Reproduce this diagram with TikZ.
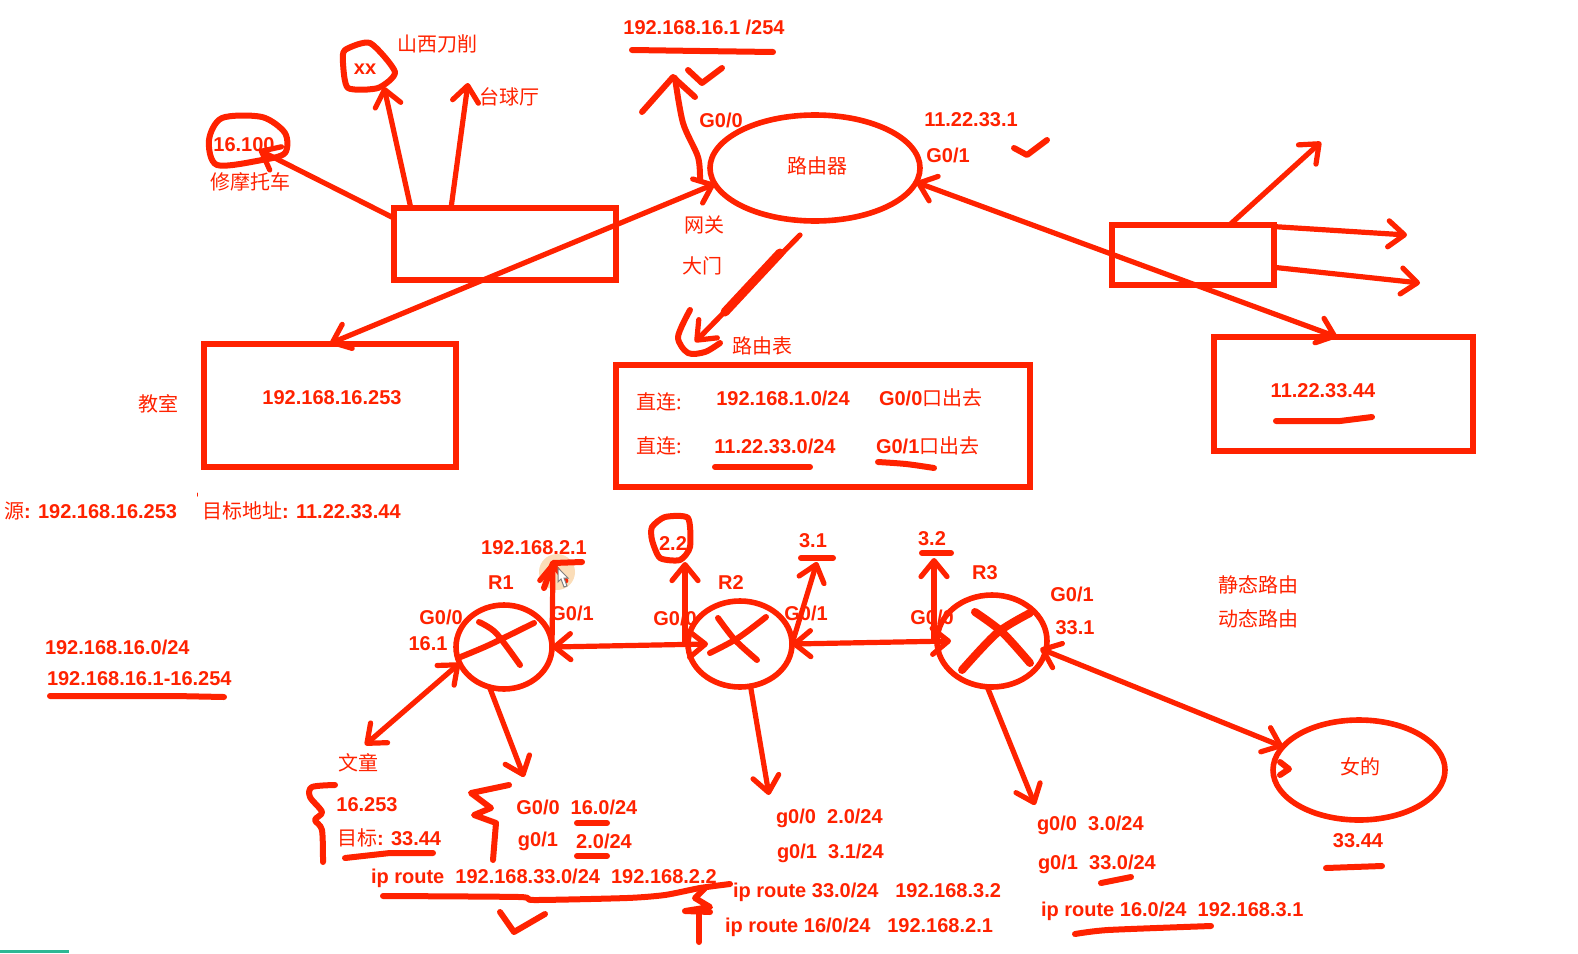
\documentclass[tikz,border=0pt]{standalone}
\usepackage{fontspec}
\setmainfont{Liberation Sans}
\newfontfamily\cjk{Noto Sans CJK SC}
\usetikzlibrary{arrows.meta,shapes.geometric}
\definecolor{inkred}{HTML}{FF2200}
\definecolor{haloorange}{HTML}{FBDDB8}
\definecolor{barteal}{HTML}{2DB894}
\tikzset{
  lbl/.style={text=inkred,font=\bfseries,inner sep=0pt,outer sep=0pt,yshift=-.5pt},
  zh/.style={text=inkred,font=\cjk,inner sep=0pt,outer sep=0pt},
  boxnode/.style={draw=inkred,line width=3pt,rectangle,inner sep=0pt,outer sep=0pt},
  roundnode/.style={draw=inkred,line width=2.8pt,ellipse,inner sep=0pt,outer sep=0pt},
  ink/.style={draw=inkred,line width=2.6pt,line cap=round,line join=round},
  link/.style={ink,>={Straight Barb[length=8pt,width=13pt,round]}},
  scrib/.style={draw=inkred,line width=3pt,line cap=round,line join=round},
}
\begin{document}
\begin{tikzpicture}[x=.5pt,y=-.5pt]
\useasboundingbox (0,0) rectangle (1578,953);

\fill[haloorange] (557,572) circle (9pt);

\node[boxnode,minimum width=111pt,minimum height=36pt] (sw) at (504.5,243.5) {};
\node[boxnode,minimum width=126pt,minimum height=61.5pt] (cls) at (330,405) {};
\node[boxnode,minimum width=207pt,minimum height=61pt] (tbl) at (822.5,426) {};
\node[boxnode,minimum width=81pt,minimum height=30pt] (swr) at (1193,254.5) {};
\node[boxnode,minimum width=129.5pt,minimum height=57pt] (pc) at (1343,394) {};
\node[roundnode,minimum width=105pt,minimum height=53pt] (rt) at (815,168) {};
\node[roundnode,minimum width=48pt,minimum height=42pt] (r1) at (504,647) {};
\node[roundnode,minimum width=52pt,minimum height=43pt] (r2) at (740,644) {};
\node[roundnode,minimum width=55pt,minimum height=46pt] (r3) at (992,641) {};
\node[roundnode,minimum width=86pt,minimum height=50pt] (woman) at (1359,770) {};

\node[lbl] (t16100) at (244,144) {16.100};
\node[zh] (tmoto) at (250,182) {修摩托车};
\node[lbl] (txx) at (365,68) {xx};
\node[zh] (tdao) at (437,44) {山西刀削};
\node[zh] (tball) at (509,97) {台球厅};
\node[lbl] (tgw) at (704,26) {192.168.16.1 /254};
\node[lbl] (tg00) at (721,119) {G0/0};
\node[lbl] (tg01) at (948,154) {G0/1};
\node[lbl] (t331) at (971,119) {11.22.33.1};
\node[zh] (trt) at (817,166) {路由器};
\node[zh] (tnet) at (704,225) {网关};
\node[zh] (tgate) at (702,266) {大门};
\node[zh,anchor=west] (ttbl) at (732,346) {路由表};
\node[zh] (tcls) at (158,404) {教室};
\node[lbl] (tpc) at (332,397) {192.168.16.253};
\node[lbl] (tpcb) at (1323,390) {11.22.33.44};
\node[zh] (tdir) at (659,402) {直连:};
\node[zh] (tdirb) at (659,446) {直连:};
\node[lbl] (tnet1) at (783,397) {192.168.1.0/24};
\node[lbl] (tnet2) at (775,445) {11.22.33.0/24};
\node[lbl,anchor=west] (tout1) at (879,397) {G0/0{\cjk\mdseries 口出去}};
\node[lbl,anchor=west] (tout2) at (876,445) {G0/1{\cjk\mdseries 口出去}};

\node[lbl,anchor=west] (tsrc) at (4,510) {{\cjk\mdseries 源}: 192.168.16.253};
\node[lbl,anchor=west] (tdst) at (202,510) {{\cjk\mdseries 目标地址}: 11.22.33.44};
\node[lbl,anchor=west] (tsub) at (45,646) {192.168.16.0/24};
\node[lbl,anchor=west] (trange) at (47,678) {192.168.16.1-16.254};

\node[lbl] (tr1) at (501,582) {R1};
\node[lbl] (tr2) at (731,582) {R2};
\node[lbl] (tr3) at (985,572) {R3};
\node[lbl] (tip21) at (534,547) {192.168.2.1};
\node[lbl] (tr1a) at (441,616) {G0/0};
\node[lbl] (tr1b) at (428,643) {16.1};
\node[lbl] (tr1c) at (572,612) {G0/1};
\node[lbl] (tr2a) at (675,617) {G0/0};
\node[lbl] (tr2b) at (806,612) {G0/1};
\node[lbl] (tip22) at (673,543) {2.2};
\node[lbl] (tip31) at (813,540) {3.1};
\node[lbl] (tip32) at (932,538) {3.2};
\node[lbl] (tr3a) at (932,616) {G0/0};
\node[lbl] (tr3b) at (1072,593) {G0/1};
\node[lbl] (tr3c) at (1075,627) {33.1};
\node[zh] (tstat) at (1258,585) {静态路由};
\node[zh] (tdyn) at (1258,619) {动态路由};
\node[zh] (twen) at (358,763) {文童};
\node[zh] (twoman) at (1360,767) {女的};
\node[lbl] (tw44) at (1358,840) {33.44};

\node[lbl] (t16253) at (367,804) {16.253};
\node[lbl,anchor=west] (ttar) at (337,837) {{\cjk\mdseries 目标}: 33.44};
\node[lbl] (ta1) at (538,806) {G0/0};
\node[lbl] (ta2) at (604,806) {16.0/24};
\node[lbl] (ta3) at (538,840) {g0/1};
\node[lbl] (ta4) at (604,840) {2.0/24};
\node[lbl,anchor=west] (tipr1) at (371,877) {ip route\ \ 192.168.33.0/24\ \ 192.168.2.2};
\node[lbl,anchor=west] (tb1) at (776,817) {g0/0\ \ 2.0/24};
\node[lbl,anchor=west] (tb2) at (777,852) {g0/1\ \ 3.1/24};
\node[lbl,anchor=west] (tipr2) at (733,891) {ip route 33.0/24\ \ \ 192.168.3.2};
\node[lbl,anchor=west] (tipr3) at (725,926) {ip route 16/0/24\ \ \ 192.168.2.1};
\node[lbl,anchor=west] (tc1) at (1037,824) {g0/0\ \ 3.0/24};
\node[lbl,anchor=west] (tc2) at (1038,863) {g0/1\ \ 33.0/24};
\node[lbl,anchor=west] (tipr4) at (1041,910) {ip route 16.0/24\ \ 192.168.3.1};

\coordinate (c16) at (259,150);
\coordinate (cxx) at (384,87);
\coordinate (cball) at (468,83);
\coordinate (ctbl) at (695,342);
\coordinate (ctbls) at (800,235);
\coordinate (ca) at (1321,142);
\coordinate (cb) at (1407,235);
\coordinate (cc) at (1420,283);
\coordinate (cr1up) at (553,562);
\coordinate (cr2up) at (685,562);
\coordinate (c31) at (817,562);
\coordinate (c32) at (934,558);
\coordinate (cwen) at (365,745);
\coordinate (cd1) at (524,777);
\coordinate (cd2) at (769,795);
\coordinate (cd3) at (1035,805);

\draw[link,<->] (cls.north) -- (rt.189);
\draw[link,<->] (rt.-8) -- (pc.96);
\draw[link,->] (sw.167) -- (c16);
\draw[link,->] (sw.159) -- (cxx);
\draw[link,->] (sw.146) -- (cball);
\draw[link,->] (swr.39) -- (ca);
\draw[link,->] (swr.19) -- (cb);
\draw[link,->] (swr.-9) -- (cc);
\draw[link,->] (ctbls) -- (ctbl);
\draw[ink,line width=4.5pt] (780,253) -- (725,312);

\draw[link,<->] (r1.east) -- ([xshift=10pt]r2.west);
\draw[link,<->] (r2.east) -- ([xshift=7pt]r3.west);
\draw[link,<->] ([xshift=-3pt]r3.-8) -- (woman.163);
\draw[link,<->] (r1.200) -- (cwen);
\draw[link,->] (r1.east) -- (cr1up);
\draw[link,->] ([xshift=-1.5pt]r2.west) -- (cr2up);
\draw[link,->] (r2.east) -- (c31);
\draw[link,->] ([xshift=-1.5pt]r3.west) -- (c32);
\draw[link,->] (r1.250) -- (cd1);
\draw[link,->] (r2.-76) -- (cd2);
\draw[link,->] (r3.264) -- (cd3);

\draw[scrib] plot[smooth cycle] coordinates {(209,140) (222,118) (262,117) (285,133) (285,153) (262,160) (217,165)};
\draw[scrib] plot[smooth cycle,tension=.4] coordinates {(345,50) (370,43) (395,72) (378,88) (348,88) (343,63)};
\draw[scrib] plot[smooth cycle,tension=.4] coordinates {(652,527) (665,517) (688,518) (690,547) (680,560) (660,558) (652,540)};
\draw[scrib] plot[smooth] coordinates {(700,180) (698,157) (683,123) (675,78)};
\draw[scrib] (642,112) -- (673,77) -- (695,97);
\draw[scrib] plot[smooth] coordinates {(690,310) (678,337) (688,353) (705,352) (720,343)};

\draw[scrib] (632,50) -- (700,51) -- (773,52);
\draw[scrib] (688,70) -- (702,83) -- (722,68);
\draw[scrib] (1014,148) -- (1027,155) -- (1047,140);
\draw[scrib] (715,467) -- (810,467);
\draw[scrib] plot[smooth] coordinates {(878,462) (906,464) (934,468)};
\draw[scrib] (1276,421) -- (1340,421) -- (1372,417);
\draw[scrib] (50,696) -- (175,696) -- (224,697);

\draw[ink,line width=.5pt] (197,493) -- (197,496);

\draw[scrib] (544,588) -- (553,563) -- (582,562);
\filldraw[fill=white,draw=gray,line width=.5pt] (558,568) -- (558,582) -- (561,579) -- (564,587) -- (567,586) -- (564,578) -- (568,578) -- cycle;

\draw[scrib] plot[smooth] coordinates {(479,622) (496,633) (520,665)};
\draw[scrib] plot[smooth] coordinates {(458,658) (489,645) (534,623)};
\draw[scrib] plot[smooth] coordinates {(718,618) (735,640) (757,660)};
\draw[scrib] plot[smooth] coordinates {(710,653) (738,638) (766,617)};
\draw[scrib,line width=4pt] plot[smooth] coordinates {(975,612) (1002,632) (1030,663)};
\draw[scrib,line width=4pt] plot[smooth] coordinates {(962,670) (997,633) (1030,613)};

\draw[scrib] (801,558) -- (833,558);
\draw[scrib] (922,553) -- (951,553);
\draw[scrib] (1280,762) -- (1289,769) -- (1280,775);

\draw[scrib] plot[smooth,tension=.5] coordinates {(335,785) (312,787) (310,797) (322,812) (315,820) (322,830) (323,862)};
\draw[scrib] (509,785) -- (471,793) -- (491,808) -- (474,815) -- (496,823) -- (493,860);
\draw[scrib] (345,858) -- (390,853) -- (433,853);
\draw[scrib] (577,823) -- (607,823);
\draw[scrib] (577,856) -- (607,856);
\draw[scrib] plot[smooth,tension=.4] coordinates {(383,896) (519,897) (534,900) (627,898) (665,895) (700,888) (730,884)};
\draw[scrib] (705,888) -- (695,898) -- (710,907) -- (685,911) -- (710,912);
\draw[scrib] (699,912) -- (699,942);
\draw[scrib] (500,912) -- (514,932) -- (545,914);
\draw[scrib] (1101,883) -- (1131,877);
\draw[scrib] plot[smooth,tension=.4] coordinates {(1075,934) (1108,930) (1211,926)};
\draw[scrib] (1326,868) -- (1382,866);

\fill[barteal] (0,950) rectangle (69,953);
\end{tikzpicture}
\end{document}
